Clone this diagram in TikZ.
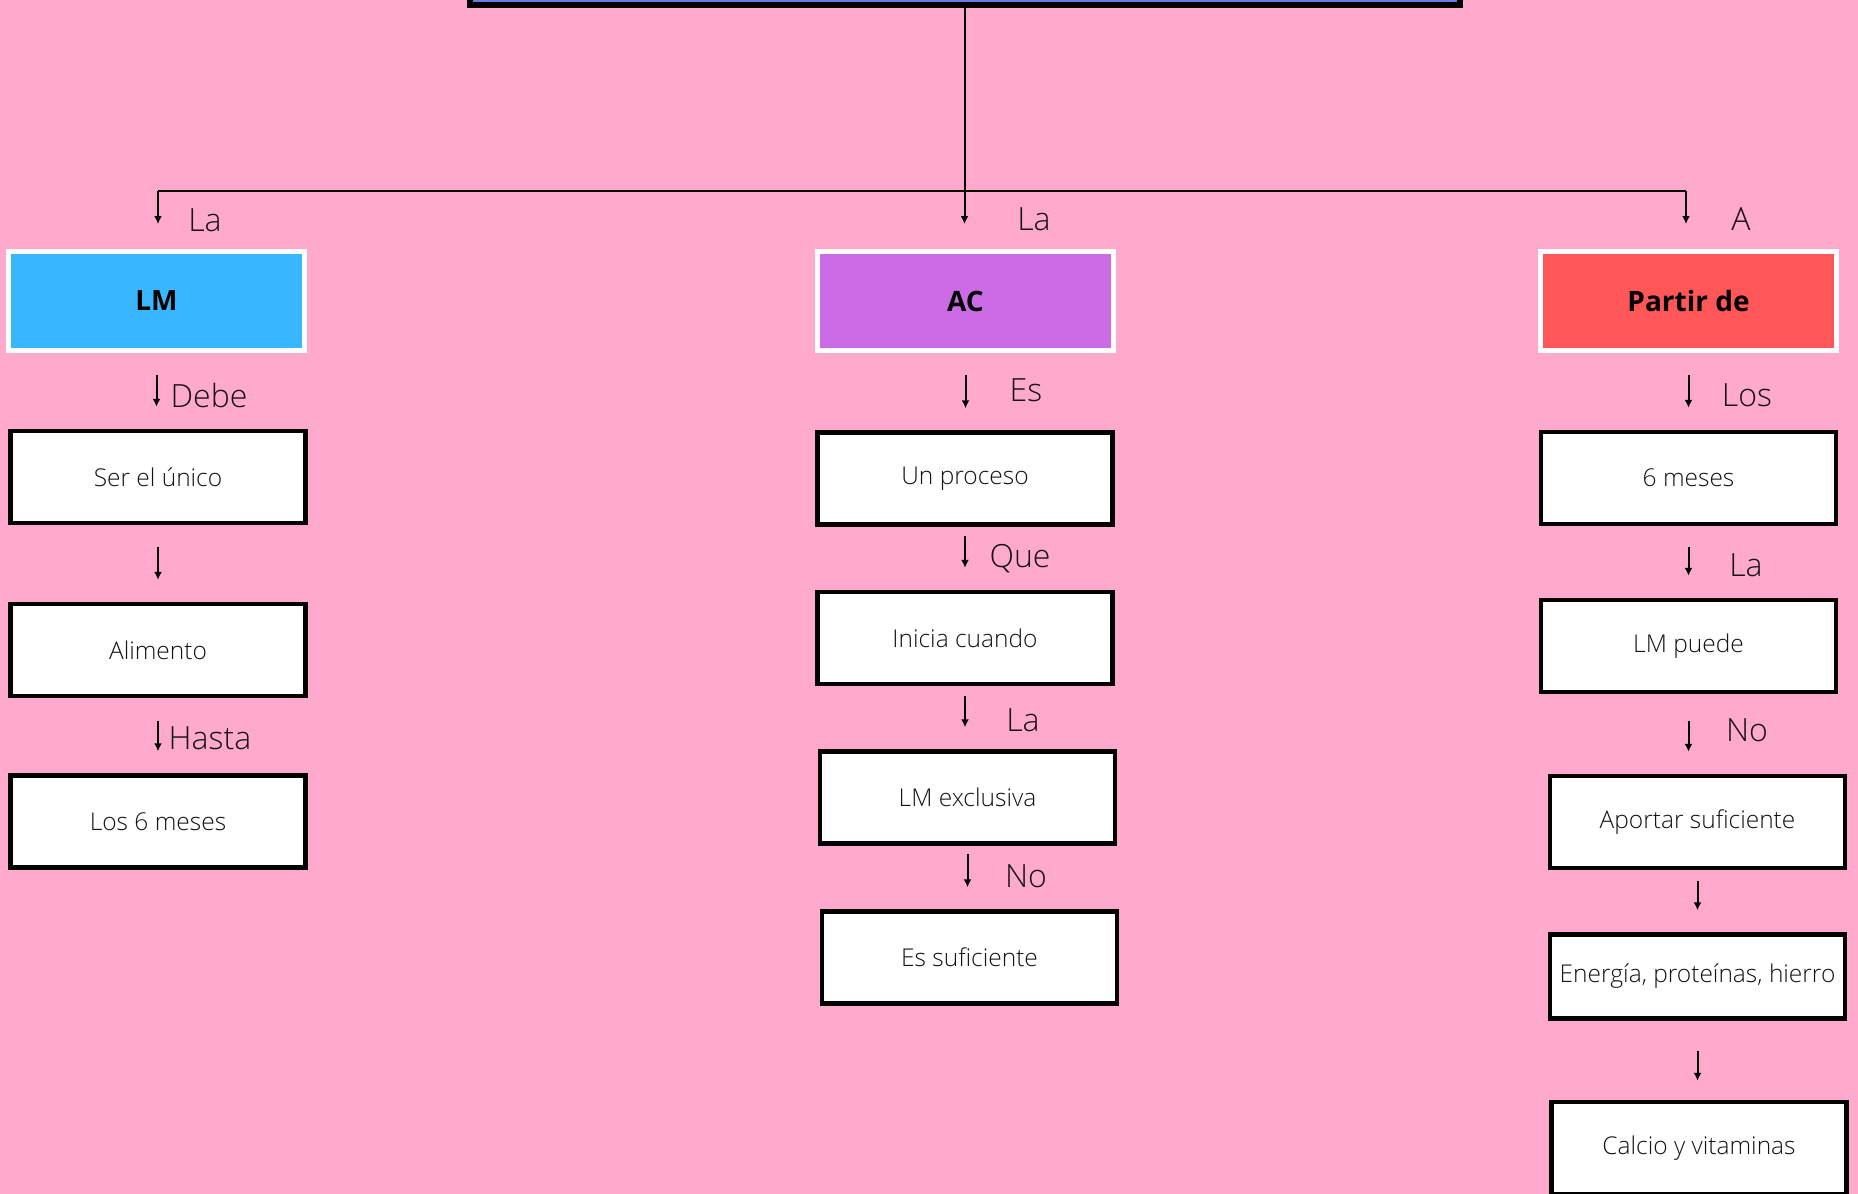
\documentclass[tikz,border=0pt]{standalone}
\usepackage{fontspec}
\setmainfont{Open Sans}[UprightFont=* Light,BoldFont=* Bold]
\usetikzlibrary{arrows.meta}
\definecolor{bgpink}{RGB}{255,169,204}
\definecolor{lmblue}{RGB}{56,182,255}
\definecolor{acpurple}{RGB}{203,108,230}
\definecolor{partred}{RGB}{255,87,87}
\definecolor{titleblue}{RGB}{104,124,226}
\begin{document}
\begin{tikzpicture}[x=1pt,y=-1pt,
  head/.style={draw=white,line width=5pt,minimum width=296pt,minimum height=99pt,
    font=\fontsize{28}{32}\selectfont\bfseries},
  blk/.style={draw=black,fill=white,line width=4.5pt,minimum width=295pt,minimum height=92pt,
    font=\fontsize{24.5}{29}\selectfont,text=black!92},
  lbl/.style={font=\fontsize{32}{38}\selectfont,text=black!92},
  arr/.style={line width=2pt,-{Latex[length=8pt,width=8pt]},shorten >=22pt}]
   \fill [bgpink] (0,0) rectangle (1858,1194);
   \useasboundingbox (0,0) rectangle (1858,1194);
   % title box, cut off at the top
   \node [draw=black,fill=titleblue,line width=6pt,minimum width=990pt,minimum height=90pt] (title) at (964.5,-40) {};
   \coordinate (jL) at (158,191);
   \coordinate (jR) at (1686,191);
   \draw [line width=2pt] (title.south) -- (title.south |- jL);
   \draw [line width=2pt] (jL) -- (jR);
   % first level
   \node [head,fill=lmblue] (lm) at (156.5,301) {LM};
   \node [head,fill=acpurple] (ac) at (965.5,301) {AC};
   \node [head,fill=partred] (partir) at (1688.5,301) {Partir de};
   \draw [arr,shorten >=25pt] (jL) -- (jL |- lm.north);
   \draw [arr,shorten >=25pt] (title.south |- jL) -- (title.south |- ac.north);
   \draw [arr,shorten >=25pt] (jR) -- (jR |- partir.north);
   \node [lbl] (laA) at (205,220) {La};
   \node [lbl] (laB) at (1034,219) {La};
   \node [lbl] (aC) at (1741,219) {A};
   % left column
   \node [blk] (unico) at (158,477) {Ser el único};
   \node [blk] (alimento) at (158,650) {Alimento};
   \node [blk] (seismeses) at (158,821.5) {Los 6 meses};
   \draw [arr,shorten <=22pt] (lm.south) -- (lm.south |- unico.north);
   \draw [arr,shorten <=22pt] (unico.south) -- (unico.south |- alimento.north);
   \draw [arr,shorten <=23pt] (alimento.south) -- (alimento.south |- seismeses.north);
   \node [lbl] (debe) at (209,395) {Debe};
   \node [lbl] (hasta) at (210,738) {Hasta};
   % middle column
   \node [blk] (proceso) at (965,478.5) {Un proceso};
   \node [blk] (inicia) at (965,638) {Inicia cuando};
   \node [blk] (exclusiva) at (967.5,797.5) {LM exclusiva};
   \node [blk] (suficiente) at (969.5,957.5) {Es suficiente};
   \draw [arr,shorten <=22pt] (ac.south) -- (ac.south |- proceso.north);
   \draw [arr,shorten <=9pt] (proceso.south) -- (proceso.south |- inicia.north);
   \draw [arr,shorten <=10pt] (inicia.south) -- (inicia.south |- exclusiva.north);
   \draw [arr,shorten <=8pt] (exclusiva.south) -- (exclusiva.south |- suficiente.north);
   \node [lbl] (es) at (1026,390) {Es};
   \node [lbl] (que) at (1020,559) {Que};
   \node [lbl] (laM) at (1023,720) {La};
   \node [lbl] (noM) at (1026,876) {No};
   % right column
   \node [blk] (meses) at (1688.5,478) {6 meses};
   \node [blk] (puede) at (1688.5,646) {LM puede};
   \node [blk] (aportar) at (1697.5,822) {Aportar suficiente};
   \node [blk,minimum height=84pt] (energia) at (1697.5,976.5) {Energía, proteínas, hierro};
   \node [blk] (calcio) at (1699,1148) {Calcio y vitaminas};
   \draw [arr,shorten <=22pt] (partir.south) -- (partir.south |- meses.north);
   \draw [arr,shorten <=21pt] (meses.south) -- (meses.south |- puede.north);
   \draw [arr,shorten <=27pt] (puede.south) -- (puede.south |- aportar.north);
   \draw [arr,shorten <=11pt] (aportar.south) -- (aportar.south |- energia.north);
   \draw [arr,shorten <=30pt,shorten >=19pt] (energia.south) -- (energia.south |- calcio.north);
   \node [lbl] (los) at (1747,395) {Los};
   \node [lbl] (laR) at (1746,565) {La};
   \node [lbl] (noR) at (1747,730) {No};
\end{tikzpicture}
\end{document}
